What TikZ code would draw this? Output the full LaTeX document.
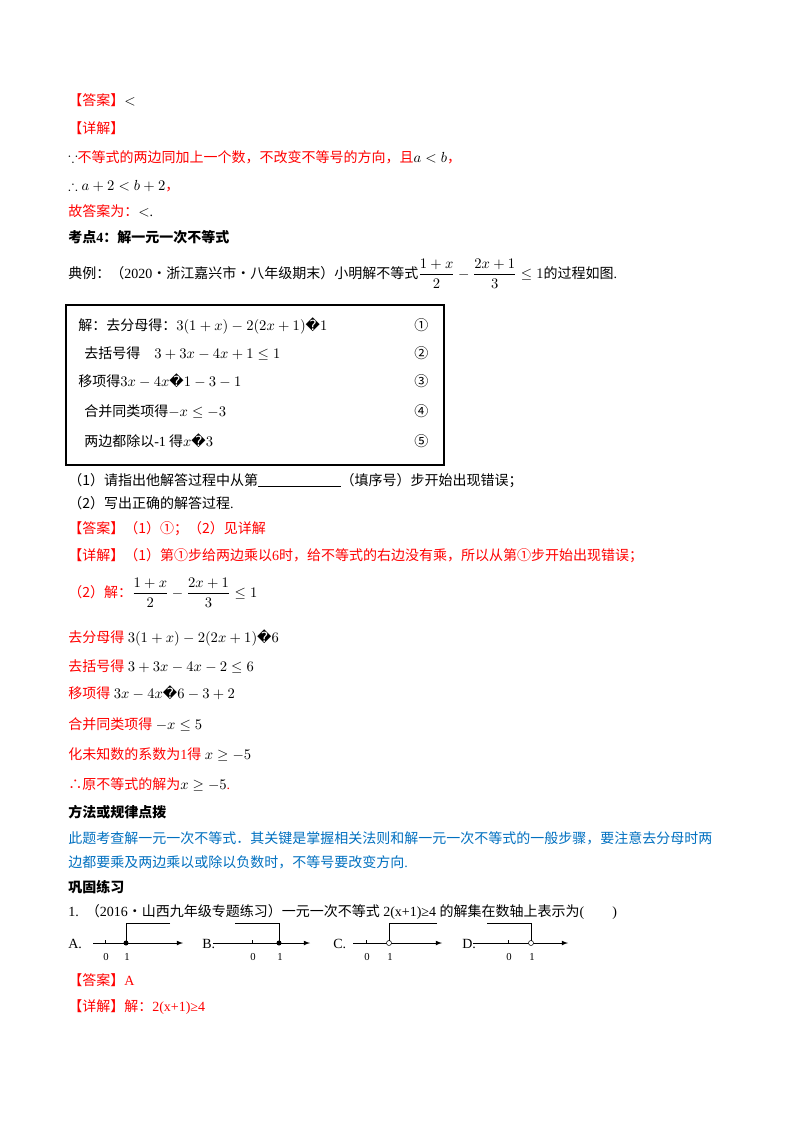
\documentclass[tikz,border=0pt]{standalone}
\usepackage{amsmath,amssymb}
\usepackage{fontspec}
\setmainfont{Liberation Serif}
\newfontfamily\zhf{Noto Sans CJK SC}
\newfontfamily\djv{DejaVu Sans}
\definecolor{rd}{RGB}{255,0,0}
\definecolor{bl}{RGB}{0,112,192}
\newcommand{\zh}[1]{{\zhf #1}}
\newcommand{\qq}{{\djv\char"FFFD}}
\tikzset{t/.style={anchor=base west,inner sep=0pt,font=\fontsize{10.5}{13}\selectfont},
 r/.style={t,text=rd}, b/.style={t,text=bl}, ax/.style={-latex,line width=0.6pt}}
\begin{document}
\begin{tikzpicture}[x=0.75pt,y=-0.75pt]
\useasboundingbox[fill=white] (0,0) rectangle (800,1132);
\node[r] (a1) at (68,105) {\zh{【答案】}\textcolor{black}{$<$}};
\node[r] (a2) at (68,133) {\zh{【详解】}};
\node[t] (a3) at (68,162) {$\because$\textcolor{rd}{\zh{不等式的两边同加上一个数，不改变不等号的方向，且}}$a<b$\textcolor{rd}{\zh{，}}};
\node[t] (a4) at (68,190) {$\therefore a+2<b+2$\textcolor{rd}{\zh{，}}};
\node[r] (a5) at (68,216) {\zh{故答案为：}\textcolor{black}{$<$.}};
\node[t] (a6) at (68,242) {\bfseries\zh{\bfseries 考点}4\zh{：解一元一次不等式}};
\node[t] (a7) at (68,278) {\zh{典例：（}2020\zh{·浙江嘉兴市·八年级期末）小明解不等式}$\dfrac{1+x}{2}-\dfrac{2x+1}{3}\le 1$\zh{的过程如图}.};
\draw[line width=0.8pt] (66,305) rectangle (444,465);
\node[t] (b1) at (78,330) {\zh{解：去分母得：}$3(1+x)-2(2x+1)$\qq$1$};
\node[t] (b2) at (84,358) {\zh{去括号得}\quad$3+3x-4x+1\le1$};
\node[t] (b3) at (78,386) {\zh{移项得}$3x-4x$\qq$1-3-1$};
\node[t] (b4) at (84,416) {\zh{合并同类项得}$-x\le-3$};
\node[t] (b5) at (84,446) {\zh{两边都除以}-1\zh{ 得}$x$\qq$3$};
\foreach \n/\y/\c in {1/330/①,2/358/②,3/386/③,4/416/④,5/446/⑤}
  \node[t] (c\n) at (414,\y) {\zh{\c}};
\node[t] (q1) at (68,485) {\zh{（1）请指出他解答过程中从第}\rule[-1pt]{62pt}{0.5pt}\zh{（填序号）步开始出现错误；}};
\node[t] (q2) at (68,508) {\zh{（2）写出正确的解答过程}.};
\node[r] (q3) at (68,533) {\zh{【答案】（1）①；（2）见详解}};
\node[r] (q4) at (68,560) {\zh{【详解】（1）第①步给两边乘以}6\zh{时，给不等式的右边没有乘，所以从第①步开始出现错误；}};
\node[r] (s0) at (68,597) {\zh{（2）解：}\textcolor{black}{$\dfrac{1+x}{2}-\dfrac{2x+1}{3}\le1$}};
\node[r] (s1) at (68,642) {\zh{去分母得}\textcolor{black}{\ $3(1+x)-2(2x+1)$\qq$6$}};
\node[r] (s2) at (68,671) {\zh{去括号得}\textcolor{black}{\ $3+3x-4x-2\le6$}};
\node[r] (s3) at (68,698) {\zh{移项得}\textcolor{black}{\ $3x-4x$\qq$6-3+2$}};
\node[r] (s4) at (68,729) {\zh{合并同类项得}\textcolor{black}{\ $-x\le5$}};
\node[r] (s5) at (68,759) {\zh{化未知数的系数为}1\zh{得}\textcolor{black}{\ $x\ge-5$}};
\node[r] (s6) at (68,789) {\zh{∴原不等式的解为}\textcolor{black}{$x\ge-5$}.};
\node[t] (m1) at (68,817) {\zh{\bfseries 方法或规律点拨}};
\node[b] (m2) at (68,843) {\zh{此题考查解一元一次不等式．其关键是掌握相关法则和解一元一次不等式的一般步骤，要注意去分母时两}};
\node[b] (m3) at (68,867) {\zh{边都要乘及两边乘以或除以负数时，不等号要改变方向}.};
\node[t] (m4) at (68,892) {\zh{\bfseries 巩固练习}};
\node[t] (p1) at (68,916) {1.\ \ \zh{（}2016\zh{·山西九年级专题练习）一元一次不等式} 2(x+1)≥4 \zh{的解集在数轴上表示为}(\qquad)};
\foreach \L/\lx/\xa/\xb/\za/\zb/\ba/\bb/\fl in
 {A/68/93/183/105/126/126/170/1, B/202/213/310/252/279/235/279/1,
  C/333/353/442/366/389/389/437/0, D/462/473/568/508/531/487/531/0}{
  \node[t] (l\L) at (\lx,948) {\L.};
  \draw[ax] (\xa,943) -- (\xb,943);
  \draw (\za,943) -- (\za,940) (\zb,943) -- (\zb,940);
  \node[t,font=\fontsize{8}{9}\selectfont] (z0\L) at (\za-2,960) {0};
  \node[t,font=\fontsize{8}{9}\selectfont] (z1\L) at (\zb-2,960) {1};
  \ifnum\fl=1 \fill (\zb,943) circle (2.5);\else \draw[fill=white] (\zb,943) circle (2.5);\fi
  \ifdim\ba pt<\zb pt \draw (\ba,923) -- (\zb,923) -- (\zb,940.5);
  \else \draw (\bb,923) -- (\zb,923) -- (\zb,940.5);\fi
}
\node[r] (e1) at (68,985) {\zh{【答案】}A};
\node[r] (e2) at (68,1011) {\zh{【详解】解：}2(x+1)≥4};
\end{tikzpicture}
\end{document}
